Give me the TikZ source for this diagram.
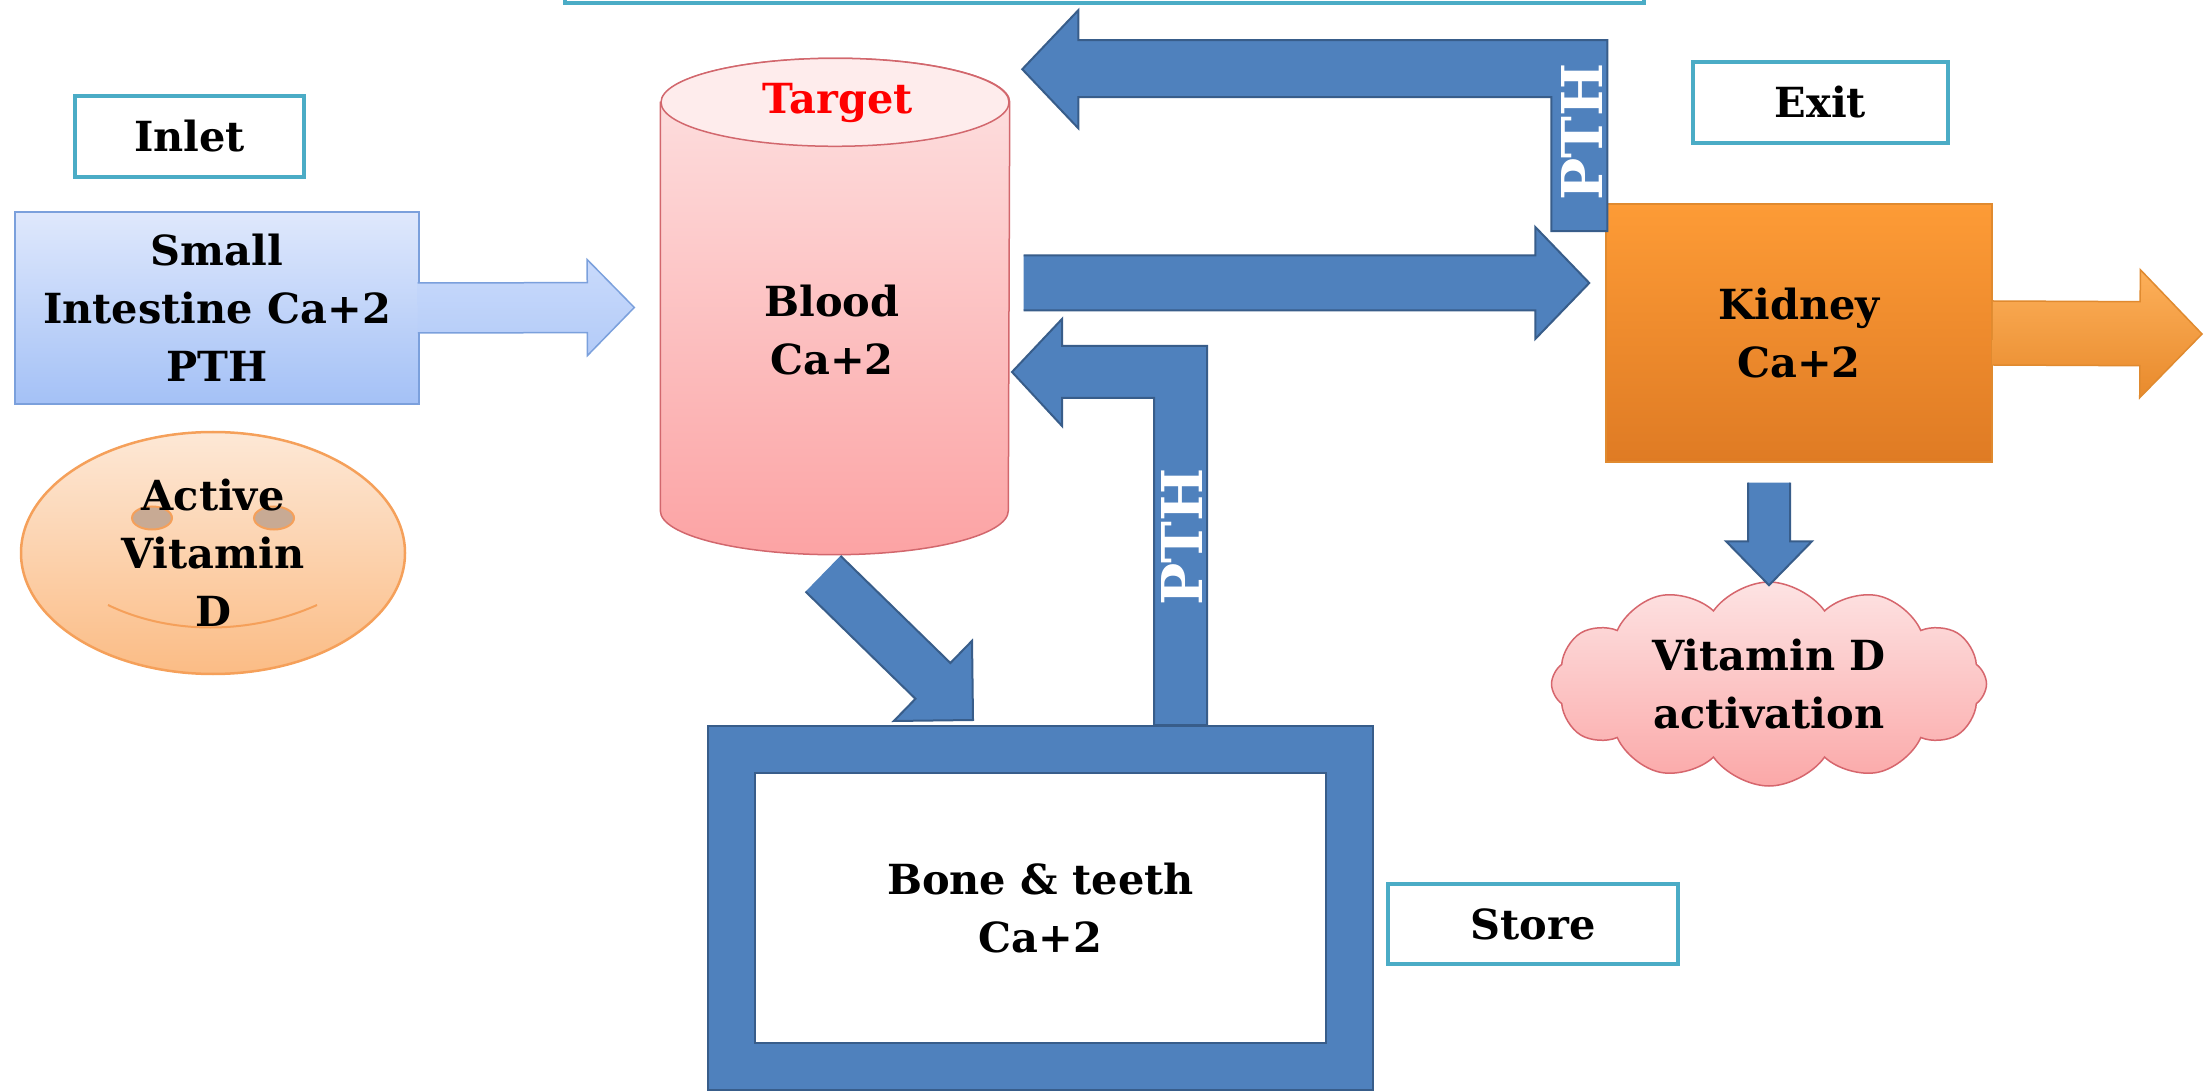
\documentclass[tikz,border=0pt]{standalone}
\usepackage{fontspec}
\setmainfont{DejaVu Serif}
\usetikzlibrary{calc, shapes.geometric, shapes.symbols}

\definecolor{bluefill}{HTML}{4F81BD}
\definecolor{blueline}{HTML}{385D8A}
\definecolor{lblteal}{HTML}{4BACC6}
\definecolor{intop}{HTML}{DFE8FC}
\definecolor{inbot}{HTML}{A4C1F6}
\definecolor{inline}{HTML}{7BA0DC}
\definecolor{inarrtop}{HTML}{C9DAFB}
\definecolor{inarrbot}{HTML}{B3CBF8}
\definecolor{tanktop}{HTML}{FDE2E2}
\definecolor{tankbot}{HTML}{FCA3A4}
\definecolor{tanklid}{HTML}{FEECEC}
\definecolor{tankline}{HTML}{D2676D}
\definecolor{facetop}{HTML}{FDE8D6}
\definecolor{facebot}{HTML}{FBBC85}
\definecolor{faceline}{HTML}{F5A05A}
\definecolor{eyefill}{HTML}{C8AA94}
\definecolor{kidtop}{HTML}{FD9B36}
\definecolor{kidbot}{HTML}{DF7B24}
\definecolor{kidline}{HTML}{E08A2F}
\definecolor{kidarrtop}{HTML}{FDB05A}
\definecolor{kidarrbot}{HTML}{E88A2C}
\definecolor{cloudtop}{HTML}{FDE3E3}
\definecolor{cloudbot}{HTML}{FBA8A8}
\definecolor{cloudline}{HTML}{D6666D}
\definecolor{targetred}{HTML}{FF0000}

\newcommand{\diagfont}{\bfseries\fontsize{11.8}{16.5}\selectfont}
\newcommand{\pthfont}{\bfseries\fontsize{16}{19}\selectfont}

% block arrow: [style]{from}{to}{half shaft}{half head}{head length}
\newcommand{\blockarrow}[6][]{%
  \coordinate (ba-s) at (#2);
  \coordinate (ba-e) at (#3);
  \coordinate (ba-h) at ($(ba-e)!#6!(ba-s)$);
  \path[#1] ($(ba-s)!#4!90:(ba-e)$) -- ($(ba-h)!#4!90:(ba-e)$)
    -- ($(ba-h)!#5!90:(ba-e)$) -- (ba-e) -- ($(ba-h)!#5!-90:(ba-e)$)
    -- ($(ba-h)!#4!-90:(ba-e)$) -- ($(ba-s)!#4!-90:(ba-e)$);
}

\begin{document}
\begin{tikzpicture}[
    x=0.1mm, y=-0.1mm,
    every node/.style={font=\diagfont},
    lbl/.style={rectangle,draw=lblteal,line width=0.4mm,fill=white,minimum height=8.1mm},
    inbox/.style={rectangle,draw=inline,line width=0.15mm,top color=intop,bottom color=inbot,
                  minimum width=40.4mm,minimum height=19.2mm,align=center},
    inarrow/.style={draw=inline,line width=0.15mm,top color=inarrtop,bottom color=inarrbot},
    tank/.style={rectangle,minimum width=34.8mm,minimum height=49.5mm,inner sep=0pt},
    tankbody/.style={draw=tankline,line width=0.15mm,top color=tanktop,bottom color=tankbot},
    face/.style={ellipse,draw=faceline,line width=0.25mm,top color=facetop,bottom color=facebot,
                 minimum width=38.4mm,minimum height=24.2mm},
    kid/.style={rectangle,draw=kidline,line width=0.15mm,top color=kidtop,bottom color=kidbot,
                minimum width=38.6mm,minimum height=25.8mm,align=center},
    kidarrow/.style={draw=kidline,line width=0.15mm,top color=kidarrtop,bottom color=kidarrbot},
    puff/.style={cloud,cloud puffs=12,cloud puff arc=110,cloud ignores aspect,draw=cloudline,
                 line width=0.15mm,top color=cloudtop,bottom color=cloudbot,
                 minimum width=43.5mm,minimum height=18.4mm,align=center},
    frame/.style={rectangle,draw=blueline,line width=0.2mm,double=bluefill,double distance=4.5mm,
                  fill=white,minimum width=61.8mm,minimum height=31.7mm,align=center},
    blockblue/.style={fill=bluefill,draw=blueline,line width=0.2mm,line join=miter},
    pth/.style={text=white,font=\pthfont,rotate=90,inner sep=0pt},
  ]
\path[use as bounding box,fill=white] (0,0) rectangle (2210,1091);
\clip (0,0) rectangle (2210,1091);

% Define nodes
\node[lbl,minimum width=107.9mm,minimum height=10mm] (topbox) at (1104.5,-47) {};
\node[lbl,minimum width=22.9mm] (inlet) at (189.5,136.5) {Inlet};
\node[lbl,minimum width=25.5mm] (exit) at (1820.5,102.5) {Exit};
\node[lbl,minimum width=29mm,minimum height=8mm] (store) at (1533,924) {Store};

\node[inbox] (intestine) at (217,308) {Small\\Intestine Ca+2\\PTH};

\node[face] (face) at (213,553) {};
\filldraw[fill=eyefill,draw=faceline,line width=0.2mm] (152,518) ellipse[x radius=2mm,y radius=1.15mm];
\filldraw[fill=eyefill,draw=faceline,line width=0.2mm] (274,518) ellipse[x radius=2mm,y radius=1.15mm];
\draw[faceline,line width=0.2mm] (108,605) .. controls (170,635) and (250,635) .. (317,605);
\node[align=center] (active) at (face.center) {Active\\Vitamin\\D};

\node[tank] (blood) at (835,306.5) {};
\shade[tankbody] ([yshift=-4.4mm]blood.north west) -- ([yshift=4.4mm]blood.south west)
  arc[start angle=180,end angle=360,x radius=17.4mm,y radius=4.4mm]
  -- ([yshift=-4.4mm]blood.north east)
  arc[start angle=0,end angle=180,x radius=17.4mm,y radius=4.4mm] -- cycle;
\filldraw[fill=tanklid,draw=tankline,line width=0.15mm] ([yshift=-4.4mm]blood.north)
  ellipse[x radius=17.4mm,y radius=4.4mm];
\node[text=targetred] (target) at (838,103) {Target};
\node[align=center] (bloodtxt) at (832,330) {Blood\\Ca+2};

\node[kid] (kidney) at (1799,333) {Kidney\\Ca+2};
\coordinate (out) at (2202,334);
\node[puff] (vitd) at (1769,684) {Vitamin D\\activation};

% Draw connections
\blockarrow[inarrow]{$(intestine.east)+(-2,0)$}{$(blood.west)+(-26,1)$}{2.5mm}{4.8mm}{4.7mm}
\blockarrow[blockblue]{$(blood.east)+(14,-23.5)$}{$(kidney.west)+(-16,-50)$}{2.75mm}{5.6mm}{5.4mm}
\blockarrow[kidarrow]{kidney.east}{out}{3.2mm}{6.4mm}{6.2mm}
\blockarrow[blockblue]{$(kidney.south -| vitd.north)+(0,20)$}{$(vitd.north)+(0,4)$}{2.1mm}{4.3mm}{4.4mm}
\blockarrow[blockblue]{$(blood.south)+(-12,19)$}{$(1040.5,908)+(-67.5,-188)$}{2.5mm}{5.6mm}{5.6mm}

% PTH feedback to the blood
\filldraw[blockblue] ($(kidney.north west)+(2,28)$) -- ++(0,-191) -- ++(-529,0) -- ++(0,-30)
  -- ++(-56,59) -- ++(56,59) -- ++(0,-31) -- ++(473,0) -- ++(0,134) -- cycle;
\node[pth] (pthtop) at (1582,132) {PTH};

\node[frame] (bone) at (1040.5,908) {Bone \& teeth\\Ca+2};
\filldraw[blockblue] ($(bone.center)+(166.5,-183)$) -- ++(0,-379) -- ++(-145,0) -- ++(0,-27)
  -- ++(-50,53) -- ++(50,54) -- ++(0,-28) -- ++(92,0) -- ++(0,327) -- cycle;
\node[pth] (pthlow) at (1182,537) {PTH};

\end{tikzpicture}
\end{document}
